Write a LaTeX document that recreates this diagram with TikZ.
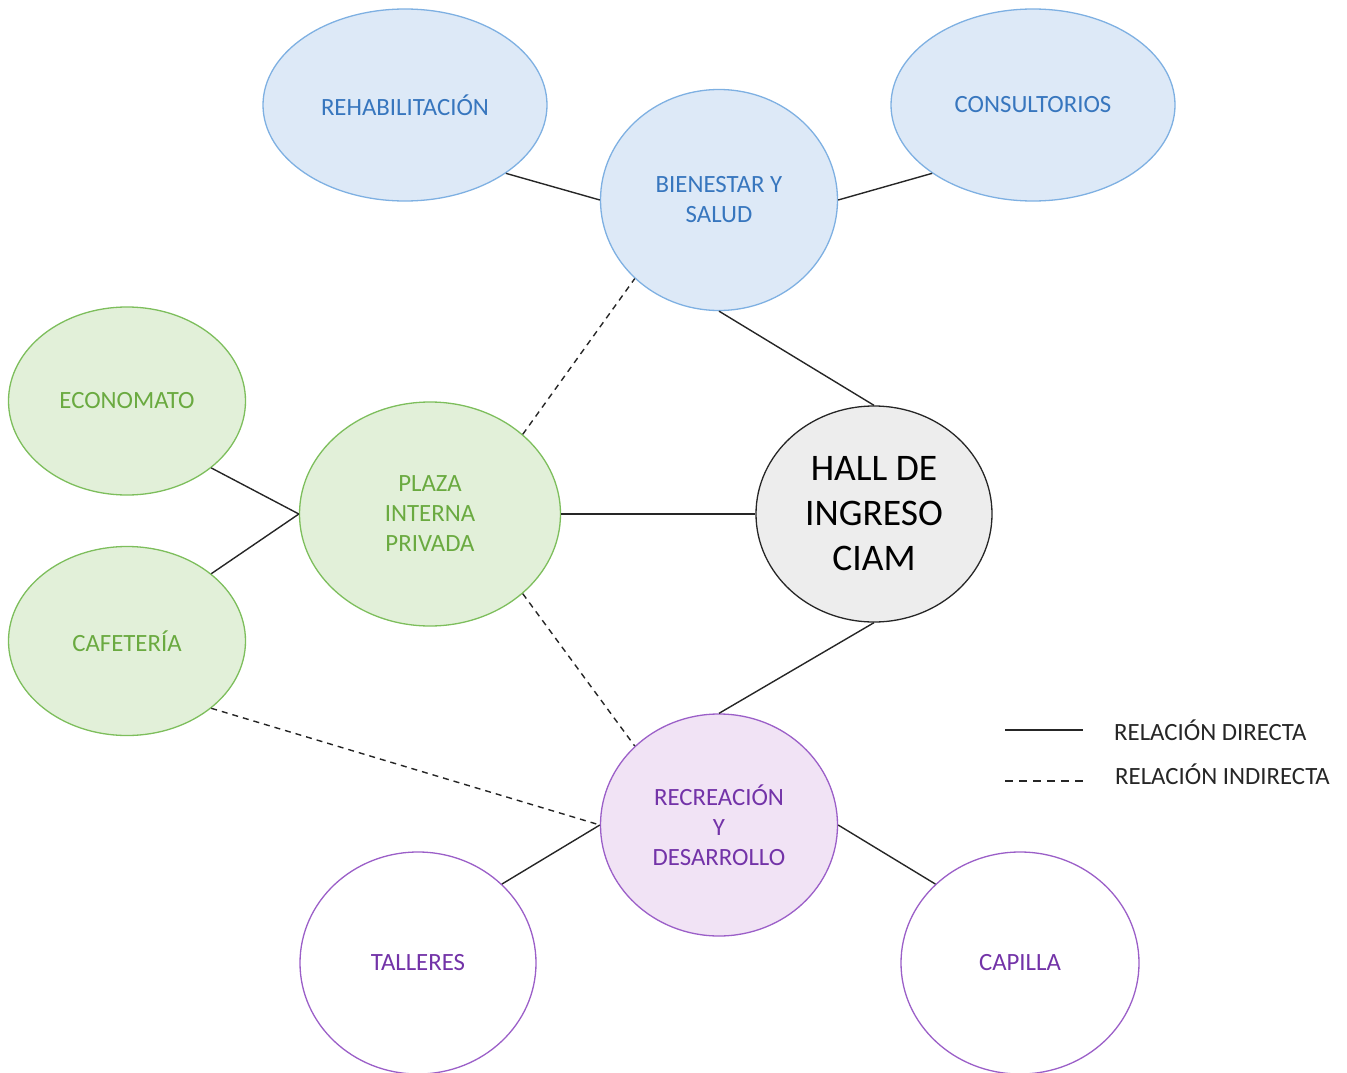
\documentclass[tikz,border=0pt]{standalone}
\usepackage{fontspec}
\setmainfont{Carlito}
\usetikzlibrary{shapes.geometric}
\definecolor{bfill}{HTML}{DDE9F7}
\definecolor{bline}{HTML}{7EB0E2}
\definecolor{btext}{HTML}{3776BE}
\definecolor{gfill}{HTML}{E2F0D9}
\definecolor{gline}{HTML}{7DBE5C}
\definecolor{gtext}{HTML}{6AAA40}
\definecolor{pfill}{HTML}{F1E3F5}
\definecolor{pline}{HTML}{9B5FC8}
\definecolor{ptext}{HTML}{7333A8}
\definecolor{hfill}{HTML}{EDEDED}
\tikzset{
  bub/.style={ellipse, line width=1.3pt, inner sep=0pt, align=center, font=\fontsize{24.8}{30}\selectfont},
  bluebub/.style={bub, draw=bline, fill=bfill, text=btext},
  greenbub/.style={bub, draw=gline, fill=gfill, text=gtext},
  purplebub/.style={bub, draw=pline, fill=pfill, text=ptext},
  whitebub/.style={bub, draw=pline, fill=white, text=ptext},
  hallbub/.style={bub, draw=black!85, fill=hfill, text=black, font=\fontsize{37.5}{45}\selectfont},
  rel/.style={line width=1.4pt, draw=black!85},
  relind/.style={rel, dash pattern=on 6pt off 5pt},
  legtext/.style={anchor=west, inner sep=0pt, font=\fontsize{24.8}{28}\selectfont, text=black!85}
}
\begin{document}
\begin{tikzpicture}[x=1pt,y=-1pt]
\useasboundingbox (0,0) rectangle (1347,1073);
\node[bluebub, minimum width=284pt, minimum height=192pt] (rehab) at (405,105) {REHABILITACIÓN};
\node[bluebub, minimum width=237pt, minimum height=221pt] (bien) at (719,200) {BIENESTAR Y\\SALUD};
\node[bluebub, minimum width=284pt, minimum height=192pt] (cons) at (1033,105) {CONSULTORIOS};
\node[greenbub, minimum width=237pt, minimum height=188pt] (econ) at (127,401) {ECONOMATO};
\node[greenbub, minimum width=261pt, minimum height=224pt] (plaza) at (430,514) {PLAZA\\INTERNA\\PRIVADA};
\node[greenbub, minimum width=237pt, minimum height=189pt] (caf) at (127,641) {CAFETERÍA};
\node[hallbub, minimum width=236pt, minimum height=216pt] (hall) at (874,514) {HALL DE\\INGRESO\\CIAM};
\node[purplebub, minimum width=237pt, minimum height=222pt] (recre) at (719,825) {RECREACIÓN\\Y\\DESARROLLO};
\node[whitebub, minimum width=236pt, minimum height=222pt] (tall) at (418,963) {TALLERES};
\node[whitebub, minimum width=238pt, minimum height=222pt] (cap) at (1020,963) {CAPILLA};

\draw[rel] (rehab.south east) -- (bien.west);
\draw[rel] (bien.east) -- (cons.south west);
\draw[rel] (bien.south) -- (hall.north);
\draw[rel] (econ.south east) -- (plaza.west);
\draw[rel] (caf.north east) -- (plaza.west);
\draw[rel] (plaza.east) -- (hall.west);
\draw[relind] (plaza.north east) -- (bien.south west);
\draw[relind] (plaza.south east) -- (recre.north west);
\draw[rel] (hall.south) -- (recre.north);
\draw[relind] (caf.south east) -- (recre.west);
\draw[rel] (recre.west) -- (tall.north east);
\draw[rel] (recre.east) -- (cap.north west);

\coordinate (l1a) at (1005,730);
\coordinate (l1b) at (1083,730);
\coordinate (l2a) at (1005,781);
\coordinate (l2b) at (1083,781);
\draw[rel] (l1a) -- (l1b);
\draw[rel, dash pattern=on 8pt off 6pt] (l2a) -- (l2b);
\node[legtext] (lt1) at (1114,730) {RELACIÓN DIRECTA};
\node[legtext] (lt2) at (1115,774) {RELACIÓN INDIRECTA};
\end{tikzpicture}
\end{document}
